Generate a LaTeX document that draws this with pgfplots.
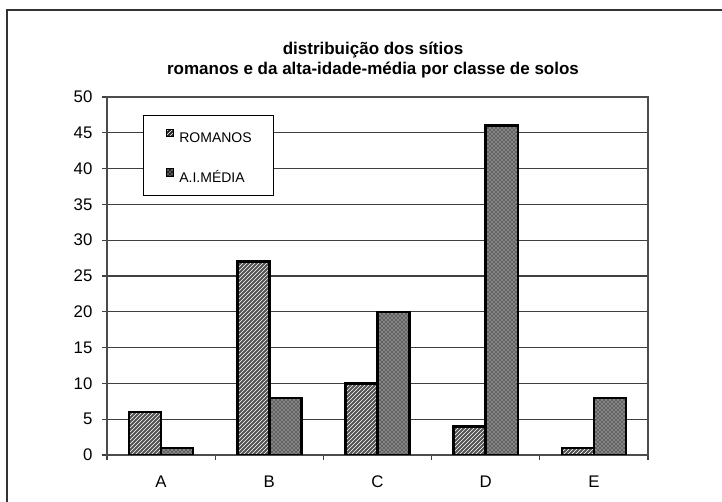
\documentclass[border=0pt]{standalone}
\usepackage{fontspec}
\setmainfont{Liberation Sans}
\usepackage{pgfplots}
\pgfplotsset{compat=1.18}
\usetikzlibrary{patterns}
\begin{document}
\begin{tikzpicture}
\useasboundingbox (0,0) rectangle (541.5pt,376.5pt);
\draw[line width=1.1pt, black!80] (5.25pt,-5pt) -- (5.25pt,369pt) -- (550pt,369pt);
\begin{axis}[
  at={(80.25pt,35.25pt)}, anchor=south west,
  scale only axis, width=405.75pt, height=268.5pt,
  xmin=0.5, xmax=5.5, ymin=0, ymax=50,
  ytick={0,5,...,50},
  xtick={0.5,1.5,...,5.5},
  x tick label as interval,
  xticklabels={A,B,C,D,E},
  xtick pos=bottom, ytick pos=left,
  tick align=outside,
  major tick length=3.75pt,
  tick style={black!75, line width=0.8pt},
  ymajorgrids,
  grid style={black!75, line width=0.8pt},
  axis line style={black!70, line width=0.9pt},
  ybar=0pt, bar width=24pt,
  ticklabel style={font=\fontsize{12.6}{14}\selectfont},
  /pgf/number format/assume math mode=true,
  yticklabel style={anchor=east, inner sep=0pt, xshift=-7pt},
  xticklabel style={anchor=north, inner sep=0pt, yshift=-12pt},
  title={distribuição dos sítios\\romanos e da alta-idade-média por classe de solos},
  title style={align=center, font=\bfseries\fontsize{12.75}{15}\selectfont, at={(0.4917,1)}, anchor=south, yshift=8pt, inner sep=0pt},
  legend style={at={(0.0665,0.9497)}, anchor=north west, draw=black, line width=0.8pt, fill=white,
    font=\fontsize{10.5}{12}\selectfont, inner xsep=16.5pt, inner ysep=9.75pt, row sep=19.5pt,
    column sep=4.5pt,
    nodes={inner sep=0pt, text height=7.5pt, text depth=0pt}},
  legend cell align=left,
  legend image code/.code={\draw[#1, line width=0.5pt, draw=black, fill=black!85] (0pt,1pt) rectangle (5.4pt,6.4pt);},
]
\addplot[draw=black, line width=1.8pt, fill=black!68, postaction={pattern=north east lines, pattern color=white}]
  coordinates {(1,6) (2,27) (3,10) (4,4) (5,1)};
\addplot[draw=black, line width=1.8pt, fill=black!62, postaction={pattern=crosshatch dots, pattern color=white}]
  coordinates {(1,1) (2,8) (3,20) (4,46) (5,8)};
\legend{ROMANOS, A.I.MÉDIA}
\end{axis}
\end{tikzpicture}
\end{document}
